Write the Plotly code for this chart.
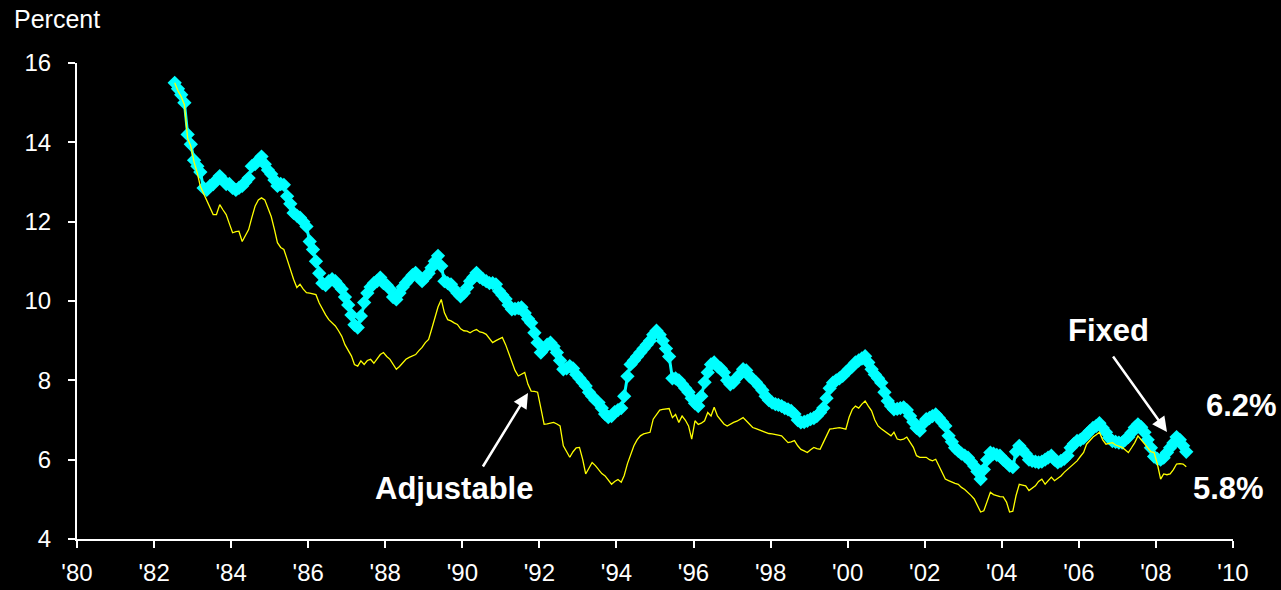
import pandas as pd
import plotly.graph_objects as go

# Monthly mortgage rates, Jul 1982 - Oct 2008 (percent)
start_month = "1982-07-01"
end_month = "2008-10-01"

fixed_rate = [
    # 1982 Jul-Dec
    15.5, 15.35, 15.2, 15.0, 14.2, 13.95,
    # 1983
    13.55, 13.4, 13.25, 12.85, 12.8, 12.9, 12.95, 13.05, 13.15, 13.05, 12.95, 12.95,
    # 1984
    12.85, 12.8, 12.85, 12.9, 13.0, 13.1, 13.4, 13.45, 13.55, 13.64, 13.45, 13.3,
    # 1985
    13.2, 13.05, 12.9, 12.95, 12.93, 12.64, 12.45, 12.22, 12.15, 12.1, 12.0, 11.88,
    # 1986
    11.5, 11.3, 11.0, 10.7, 10.45, 10.4, 10.5, 10.55, 10.5, 10.4, 10.3, 10.1,
    # 1987
    9.9, 9.65, 9.4, 9.33, 9.62, 9.96, 10.2, 10.35, 10.45, 10.5, 10.59, 10.45,
    # 1988
    10.4, 10.3, 10.1, 10.04, 10.2, 10.35, 10.46, 10.55, 10.65, 10.71, 10.6, 10.5,
    # 1989
    10.6, 10.7, 10.84, 11.0, 11.14, 10.88, 10.5, 10.45, 10.42, 10.3, 10.2, 10.12,
    # 1990
    10.2, 10.34, 10.5, 10.6, 10.71, 10.6, 10.55, 10.5, 10.45, 10.45, 10.42, 10.25,
    # 1991
    10.15, 10.05, 9.9, 9.79, 9.8, 9.82, 9.84, 9.7, 9.55, 9.45, 9.2, 8.95,
    # 1992
    8.7, 8.8, 8.9, 8.95, 8.85, 8.7, 8.5, 8.28, 8.3, 8.36, 8.3, 8.15,
    # 1993
    8.05, 7.95, 7.86, 7.7, 7.6, 7.5, 7.44, 7.3, 7.15, 7.07, 7.1, 7.2,
    # 1994
    7.25, 7.3, 7.6, 8.1, 8.4, 8.5, 8.6, 8.7, 8.8, 8.9, 9.0, 9.15,
    # 1995
    9.25, 9.15, 9.0, 8.8, 8.6, 8.05, 8.05, 8.0, 7.9, 7.8, 7.7, 7.55,
    # 1996
    7.42, 7.35, 7.6, 7.95, 8.2, 8.4, 8.45, 8.35, 8.3, 8.2, 8.0, 7.9,
    # 1997
    7.95, 8.07, 8.15, 8.28, 8.25, 8.1, 8.03, 7.95, 7.85, 7.75, 7.6, 7.5,
    # 1998
    7.44, 7.4, 7.38, 7.35, 7.3, 7.27, 7.23, 7.15, 7.0, 6.94, 6.95, 6.98,
    # 1999
    7.02, 7.05, 7.1, 7.19, 7.3, 7.55, 7.8, 7.94, 8.0, 8.05, 8.11, 8.2,
    # 2000
    8.28, 8.35, 8.45, 8.5, 8.55, 8.61, 8.45, 8.28, 8.15, 8.05, 7.94, 7.7,
    # 2001
    7.48, 7.35, 7.27, 7.28, 7.3, 7.32, 7.25, 7.1, 6.95, 6.8, 6.73, 6.9,
    # 2002
    7.02, 7.05, 7.1, 7.14, 7.05, 6.95, 6.85, 6.6, 6.45, 6.3, 6.22, 6.15,
    # 2003
    6.1, 6.05, 5.95, 5.84, 5.7, 5.51, 5.75, 6.0, 6.18, 6.15, 6.12, 6.1,
    # 2004
    6.0, 5.93, 5.85, 5.81, 6.2, 6.35, 6.25, 6.15, 6.0, 5.97, 5.95, 5.93,
    # 2005
    5.95, 6.0, 6.05, 6.1, 6.0, 5.93, 5.97, 6.02, 6.1, 6.3, 6.4, 6.47,
    # 2006
    6.5, 6.55, 6.64, 6.72, 6.8, 6.85, 6.92, 6.8, 6.69, 6.55, 6.47, 6.45,
    # 2007
    6.43, 6.43, 6.5, 6.57, 6.68, 6.81, 6.89, 6.82, 6.69, 6.5, 6.3, 6.08,
    # 2008 Jan-Oct
    6.02, 6.0, 6.05, 6.18, 6.3, 6.42, 6.57, 6.5, 6.35, 6.2,
]

adjustable_rate = [
    # 1982 Jul-Dec
    15.5, 15.3, 15.15, 14.95, 14.1, 13.9,
    # 1983
    13.5, 13.22, 12.89, 12.7, 12.55, 12.35, 12.18, 12.18, 12.43, 12.3, 12.18, 11.95,
    # 1984
    11.72, 11.75, 11.76, 11.5, 11.65, 11.8, 12.1, 12.39, 12.55, 12.6, 12.55, 12.35,
    # 1985
    12.13, 11.8, 11.47, 11.35, 11.3, 11.05, 10.79, 10.55, 10.34, 10.42, 10.3, 10.21,
    # 1986
    10.2, 10.18, 10.16, 9.95, 9.79, 9.65, 9.53, 9.45, 9.37, 9.25, 9.11, 8.9,
    # 1987
    8.75, 8.61, 8.4, 8.36, 8.49, 8.4, 8.5, 8.53, 8.43, 8.55, 8.65, 8.7,
    # 1988
    8.6, 8.53, 8.4, 8.28, 8.35, 8.45, 8.53, 8.58, 8.62, 8.65, 8.75, 8.83,
    # 1989
    8.95, 9.03, 9.28, 9.6, 9.85, 10.04, 9.7, 9.53, 9.5, 9.45, 9.41, 9.3,
    # 1990
    9.25, 9.24, 9.2, 9.25, 9.28, 9.22, 9.2, 9.16, 9.05, 8.95, 9.0, 9.05,
    # 1991
    9.08, 8.9, 8.7, 8.45, 8.25, 8.11, 8.15, 8.2, 7.9, 7.73, 7.72, 7.7,
    # 1992
    7.3, 6.89, 6.9, 6.92, 6.94, 6.9, 6.85, 6.35, 6.2, 6.06, 6.2, 6.3,
    # 1993
    6.31, 6.0, 5.64, 5.8, 5.93, 5.85, 5.75, 5.65, 5.59, 5.5, 5.38, 5.45,
    # 1994
    5.5, 5.43, 5.6, 5.9, 6.15, 6.35, 6.5, 6.6, 6.65, 6.67, 6.69, 7.02,
    # 1995
    7.15, 7.25, 7.27, 7.28, 7.29, 7.06, 7.14, 6.94, 7.1, 7.0, 6.85, 6.52,
    # 1996
    6.98, 6.89, 6.92, 6.98, 7.19, 7.1, 7.32, 7.1, 7.0, 6.9, 6.85, 6.9,
    # 1997
    6.94, 6.97, 7.02, 7.06, 6.98, 6.9, 6.81, 6.78, 6.75, 6.73, 6.7, 6.66,
    # 1998
    6.65, 6.64, 6.62, 6.6, 6.52, 6.43, 6.45, 6.48, 6.35, 6.26, 6.22, 6.18,
    # 1999
    6.25, 6.31, 6.28, 6.26, 6.43, 6.6, 6.77, 6.78, 6.8, 6.81, 6.79, 6.77,
    # 2000
    7.07, 7.27, 7.35, 7.3, 7.4, 7.48, 7.35, 7.23, 7.0, 6.85, 6.78, 6.72,
    # 2001
    6.65, 6.6, 6.69, 6.52, 6.5, 6.52, 6.57, 6.45, 6.31, 6.1, 6.06, 6.06,
    # 2002
    6.06, 6.0, 5.97, 6.01, 5.85, 5.7, 5.51, 5.47, 5.43, 5.4, 5.38, 5.3,
    # 2003
    5.25, 5.18, 5.1, 5.01, 4.85, 4.68, 4.71, 4.95, 5.18, 5.12, 5.09, 5.07,
    # 2004
    5.06, 4.93, 4.68, 4.7, 5.09, 5.38, 5.36, 5.34, 5.22, 5.28, 5.34, 5.45,
    # 2005
    5.51, 5.38, 5.47, 5.56, 5.47, 5.52, 5.59, 5.68, 5.75, 5.81, 5.9, 5.97,
    # 2006
    6.08, 6.18, 6.39, 6.48, 6.57, 6.63, 6.69, 6.5, 6.39, 6.41, 6.43, 6.37,
    # 2007
    6.33, 6.31, 6.25, 6.18, 6.3, 6.43, 6.6, 6.5, 6.39, 6.3, 6.2, 6.18,
    # 2008 Jan-Oct
    5.89, 5.51, 5.64, 5.62, 5.64, 5.75, 5.89, 5.9, 5.89, 5.82,
]

y_ticks = [4, 6, 8, 10, 12, 14, 16]
fixed_label = "Fixed"
adjustable_label = "Adjustable"
fixed_last_label = "6.2%"
adjustable_last_label = "5.8%"
y_title = "Percent"

dates = pd.date_range(start_month, end_month, freq="MS") + pd.Timedelta(days=14)

fig = go.Figure()
fig.add_trace(go.Scatter(
    x=dates, y=fixed_rate, mode="lines+markers", name=fixed_label,
    line=dict(color="#00FFFF", width=3),
    marker=dict(symbol="diamond", size=11, color="#00FFFF"),
    showlegend=False,
))
fig.add_trace(go.Scatter(
    x=dates, y=adjustable_rate, mode="lines", name=adjustable_label,
    line=dict(color="#FFFF00", width=1.3),
    showlegend=False,
))

W, H = 1281, 590
L, R, T, B = 77, 48, 63, 51
pw, ph = W - L - R, H - T - B

def px(x):
    return (x - L) / pw

def py(y):
    return (H - B - y) / ph

font_family = "Liberation Sans, Arial, sans-serif"
annotations = [
    dict(text=y_title, x=px(12), y=py(19), xanchor="left", yanchor="middle",
         font=dict(size=25, color="white")),
    dict(text="<b>%s</b>" % fixed_label, x=px(1108), y=py(330), xanchor="center", yanchor="middle",
         font=dict(size=31, color="white")),
    dict(text="<b>%s</b>" % adjustable_label, x=px(454), y=py(488), xanchor="center", yanchor="middle",
         font=dict(size=31, color="white")),
    dict(text="<b>%s</b>" % fixed_last_label, x=px(1241), y=py(405), xanchor="center", yanchor="middle",
         font=dict(size=31, color="white")),
    dict(text="<b>%s</b>" % adjustable_last_label, x=px(1228), y=py(488), xanchor="center", yanchor="middle",
         font=dict(size=31, color="white")),
    dict(text="", x=px(1167), y=py(432), ax=-55, ay=-77, axref="pixel", ayref="pixel",
         showarrow=True, arrowhead=2, arrowsize=1.2, arrowwidth=2.5, arrowcolor="white"),
    dict(text="", x=px(528), y=py(393), ax=-46, ay=75, axref="pixel", ayref="pixel",
         showarrow=True, arrowhead=2, arrowsize=1.2, arrowwidth=2.5, arrowcolor="white"),
]
for a in annotations:
    a.setdefault("xref", "paper")
    a.setdefault("yref", "paper")
    a.setdefault("showarrow", False)

fig.update_layout(
    width=W, height=H,
    margin=dict(l=L, r=R, t=T, b=B, pad=0),
    paper_bgcolor="black", plot_bgcolor="black",
    font=dict(family=font_family, color="white", size=24),
    annotations=annotations,
    xaxis=dict(
        type="date", range=["1980-01-01", "2010-01-01"],
        tick0="1980-01-01", dtick="M24", tickformat="'%y",
        showgrid=False, zeroline=False, automargin=False,
        showline=True, linecolor="white", linewidth=2,
        ticks="outside", ticklen=7, tickwidth=2, tickcolor="white",
        ticklabelstandoff=4,
        tickfont=dict(size=24, color="white", family=font_family),
    ),
    yaxis=dict(
        range=[4, 16], tickvals=y_ticks, automargin=False,
        showgrid=False, zeroline=False,
        showline=True, linecolor="white", linewidth=2,
        ticks="outside", ticklen=7, tickwidth=2, tickcolor="white",
        ticklabelstandoff=12,
        tickfont=dict(size=24, color="white", family=font_family),
    ),
)

fig.write_html(
    "out.html",
    config={"displayModeBar": False},
    post_script="document.body.style.margin='0';document.body.style.overflow='hidden';document.body.style.background='black';",
)
